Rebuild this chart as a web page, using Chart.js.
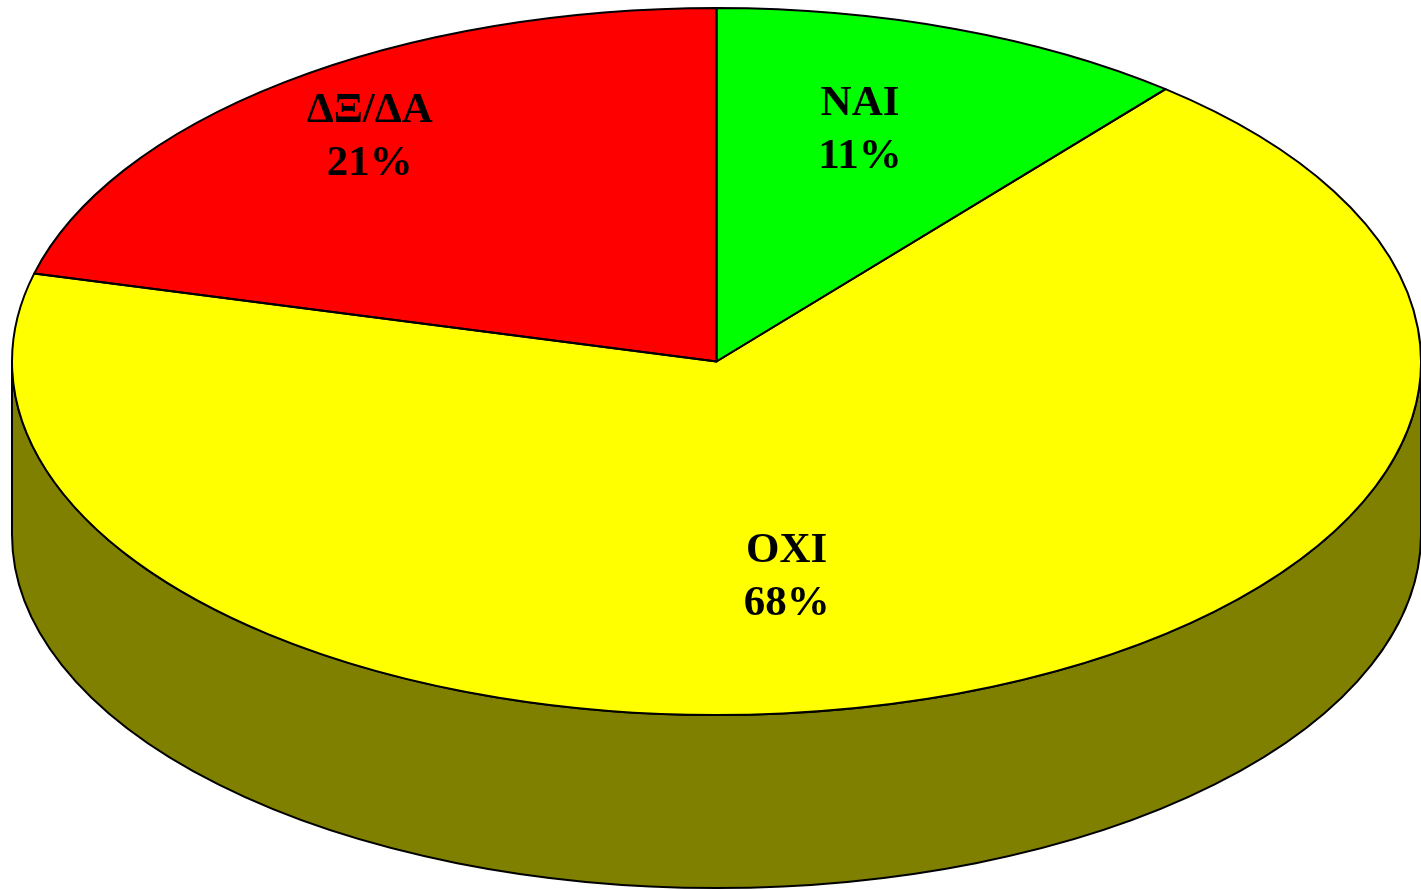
<!DOCTYPE html>
<html>
<head>
<meta charset="utf-8">
<script src="https://cdn.jsdelivr.net/npm/chart.js@4.4.1/dist/chart.umd.min.js"></script>
<style>
  html, body { margin: 0; padding: 0; background: #fff; }
  #wrap { width: 1421px; height: 890px; position: relative; }
</style>
</head>
<body>
<div id="wrap"><canvas id="pie"></canvas></div>
<script>
// data
const labels = ["ΝΑΙ", "ΟΧΙ", "ΔΞ/ΔΑ"];
const values = [11, 68, 21];

// looks
const colors = ["#00ff00", "#ffff00", "#ff0000"];
const sideColors = ["#008000", "#808000", "#800000"];
const depth = 173;                 // thickness of the 3d disc
const labelRadius = [0.69, 0.61, 0.81];
const labelShift = [-3, 9, 0];     // degrees, nudges the labels like excel did

function ellipseInfo(chart) {
    const a = chart.chartArea;
    return {
        cx: (a.left + a.right) / 2,
        cy: (a.top + a.bottom) / 2,
        rx: (a.right - a.left) / 2,
        ry: (a.bottom - a.top) / 2
    };
}

// fake 3d: squash the pie into an ellipse and draw the rim below it
const pie3d = {
    id: "pie3d",
    beforeDatasetsDraw(chart) {
        const ctx = chart.ctx;
        const e = ellipseInfo(chart);
        const arcs = chart.getDatasetMeta(0).data;

        // rim, only the front half is visible
        ctx.save();
        ctx.lineWidth = 2;
        ctx.strokeStyle = "#000";
        arcs.forEach((arc, i) => {
            [-2 * Math.PI, 0, 2 * Math.PI].forEach(off => {
                const a0 = Math.max(arc.startAngle + off, 0);
                const a1 = Math.min(arc.endAngle + off, Math.PI);
                if (a1 <= a0) return;
                ctx.beginPath();
                ctx.ellipse(e.cx, e.cy, e.rx, e.ry, 0, a0, a1, false);
                ctx.ellipse(e.cx, e.cy + depth, e.rx, e.ry, 0, a1, a0, true);
                ctx.closePath();
                ctx.fillStyle = sideColors[i];
                ctx.fill();
                ctx.stroke();
            });
        });
        ctx.restore();

        // top face: scale chart.js' circle into the ellipse
        const first = arcs[0];
        const r0 = first.outerRadius;
        ctx.save();
        ctx.translate(e.cx, e.cy);
        ctx.scale(e.rx / r0, e.ry / r0);
        ctx.translate(-first.x, -first.y);
    },
    afterDatasetsDraw(chart) {
        const ctx = chart.ctx;
        ctx.restore();

        const e = ellipseInfo(chart);
        const arcs = chart.getDatasetMeta(0).data;
        ctx.save();
        ctx.lineWidth = 2;
        ctx.lineJoin = "round";
        ctx.strokeStyle = "#000";
        arcs.forEach(arc => {
            ctx.beginPath();
            ctx.moveTo(e.cx, e.cy);
            ctx.ellipse(e.cx, e.cy, e.rx, e.ry, 0, arc.startAngle, arc.endAngle, false);
            ctx.closePath();
            ctx.stroke();
        });
        ctx.restore();
    },
    afterDraw(chart) {
        const ctx = chart.ctx;
        const e = ellipseInfo(chart);
        const arcs = chart.getDatasetMeta(0).data;
        const total = values.reduce((s, v) => s + v, 0);

        ctx.save();
        ctx.font = "bold 43px 'Liberation Serif', 'Times New Roman', serif";
        ctx.fillStyle = "#000";
        ctx.textAlign = "center";
        ctx.textBaseline = "middle";
        arcs.forEach((arc, i) => {
            const mid = (arc.startAngle + arc.endAngle) / 2 + labelShift[i] * Math.PI / 180;
            const x = e.cx + 3 + Math.cos(mid) * e.rx * labelRadius[i];
            const y = e.cy + Math.sin(mid) * e.ry * labelRadius[i];
            const pct = Math.round(values[i] / total * 100) + "%";
            ctx.fillText(labels[i], x, y - 24);
            ctx.fillText(pct, x, y + 29);
        });
        ctx.restore();
    }
};

new Chart(document.getElementById("pie"), {
    type: "pie",
    data: {
        labels: labels,
        datasets: [{
            data: values,
            backgroundColor: colors,
            borderWidth: 0
        }]
    },
    options: {
        responsive: true,
        maintainAspectRatio: false,
        animation: false,
        events: [],
        layout: {
            padding: { left: 12, right: -3, top: 8, bottom: 175 }
        },
        plugins: {
            legend: { display: false },
            tooltip: { enabled: false }
        }
    },
    plugins: [pie3d]
});
</script>
</body>
</html>
